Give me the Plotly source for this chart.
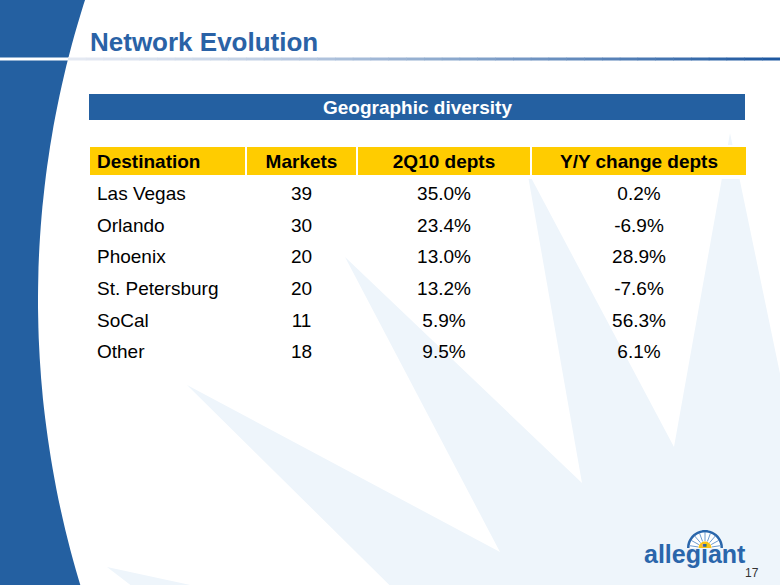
import numpy as np
import plotly.graph_objects as go

W, H = 780, 585
FONT = "Arial, Liberation Sans, sans-serif"

# ---- data ----
title = "Network Evolution"
section = "Geographic diversity"
headers = ["Destination", "Markets", "2Q10 depts", "Y/Y change depts"]
destinations = ["Las Vegas", "Orlando", "Phoenix", "St. Petersburg", "SoCal", "Other"]
markets = [39, 30, 20, 20, 11, 18]
share_2q10 = [35.0, 23.4, 13.0, 13.2, 5.9, 9.5]
yoy_change = [0.2, -6.9, 28.9, -7.6, 56.3, 6.1]
page_no = "17"
logo_text = "allegiant"

BLUE = "#2460a1"
LIGHT = "#eef5fb"
YELLOW = "#ffcc00"

shapes = []

# light sunburst background star
star = [(150, 600), (107, 567), (445, 640), (187, 385), (500, 552), (345, 257),
        (582, 483), (527, 170), (674, 447), (730, 133), (800, 470), (800, 600)]
shapes.append(dict(type="path", xref="x", yref="y", layer="below", line=dict(width=0),
                   fillcolor=LIGHT,
                   path="M " + " L ".join(f"{x},{y}" for x, y in star) + " Z"))

# left blue curved band
ys = np.linspace(-5, 590, 60)
cx, cy, R = 1019.0, 300.0, 981.0
xs = cx - np.sqrt(R ** 2 - (ys - cy) ** 2)
pts = [(-5, -5)] + list(zip(xs, ys)) + [(-5, 590)]
shapes.append(dict(type="path", xref="x", yref="y", layer="below", line=dict(width=0),
                   fillcolor=BLUE,
                   path="M " + " L ".join(f"{x:.1f},{y:.1f}" for x, y in pts) + " Z"))

# white rule across the band + gradient rule
shapes.append(dict(type="line", xref="x", yref="y", layer="below", x0=0, x1=70, y0=59, y1=59,
                   line=dict(color="white", width=3)))
n = 40
c0 = np.array([228, 233, 242])
c1 = np.array([30, 88, 160])
edges = np.linspace(68, 780, n + 1)
for i in range(n):
    t = (i / (n - 1)) ** 1.3
    c = (c0 + (c1 - c0) * t).astype(int)
    shapes.append(dict(type="line", xref="x", yref="y", layer="below",
                       x0=edges[i], x1=edges[i + 1] + 0.5, y0=59, y1=59,
                       line=dict(color=f"rgb({c[0]},{c[1]},{c[2]})", width=3)))

# section header bar
shapes.append(dict(type="rect", xref="x", yref="y", layer="below", x0=89, x1=745, y0=94, y1=120,
                   fillcolor=BLUE, line=dict(width=0)))

# trim the bottom of the table header band (table rows keep their spacing)
shapes.append(dict(type="rect", xref="x", yref="y", layer="above", x0=87, x1=749, y0=175, y1=178.3,
                   fillcolor="white", line=dict(width=0)))

# logo flower (half discs)
def half_disc(cxx, cyy, r):
    a = np.linspace(0, np.pi, 40)
    p = [(cxx + r * np.cos(t), cyy - r * np.sin(t)) for t in a]
    return "M " + " L ".join(f"{x:.1f},{y:.1f}" for x, y in p) + " Z"

fx, fy = 705, 548
shapes.append(dict(type="path", xref="x", yref="y", layer="above", path=half_disc(fx, fy, 18),
                   fillcolor="#2a66ab", line=dict(width=0)))
shapes.append(dict(type="path", xref="x", yref="y", layer="above", path=half_disc(fx, fy, 15.5),
                   fillcolor="white", line=dict(width=0)))
for ang in np.linspace(0.15, np.pi - 0.15, 9):
    shapes.append(dict(type="line", xref="x", yref="y", layer="above",
                       x0=fx + 7 * np.cos(ang), y0=fy - 7 * np.sin(ang),
                       x1=fx + 16 * np.cos(ang), y1=fy - 16 * np.sin(ang),
                       line=dict(color="#6e9ccf", width=1)))
shapes.append(dict(type="path", xref="x", yref="y", layer="above", path=half_disc(fx, fy, 6.5),
                   fillcolor="#f7c21a", line=dict(width=0)))

annotations = [
    dict(x=88, y=42, xref="x", yref="y", text=f"<b>{title}</b>", showarrow=False,
         xanchor="left", yanchor="middle", font=dict(family=FONT, size=26, color="#2a62a6")),
    dict(x=417, y=107, xref="x", yref="y", text=f"<b>{section}</b>", showarrow=False,
         xanchor="center", yanchor="middle", font=dict(family=FONT, size=19, color="white")),
    dict(x=695, y=554, xref="x", yref="y", text=f"<b>{logo_text}</b>", showarrow=False,
         xanchor="center", yanchor="middle", font=dict(family=FONT, size=25, color="#2a66ab")),
    dict(x=752, y=573, xref="x", yref="y", text=page_no, showarrow=False,
         xanchor="center", yanchor="middle", font=dict(family=FONT, size=12, color="#333333")),
]

fig = go.Figure()
fig.add_trace(go.Scatter(x=[0, W], y=[0, H], mode="markers", marker=dict(opacity=0),
                         hoverinfo="skip", showlegend=False))

align = ["left", "center", "center", "center"]
fig.add_trace(go.Table(
    domain=dict(x=[89 / W, 747 / W], y=[0, 1 - 146 / H]),
    columnwidth=[157, 111, 174, 216],
    header=dict(values=headers, fill_color=YELLOW,
                line=dict(color="white", width=2), align=align, height=32,
                font=dict(family=FONT, size=19, color="black", weight="bold")),
    cells=dict(values=[destinations, [str(m) for m in markets],
                       [f"{v:.1f}%" for v in share_2q10],
                       [f"{v:.1f}%" for v in yoy_change]],
               fill_color="rgba(0,0,0,0)", line=dict(color="rgba(0,0,0,0)", width=0),
               align=align, height=31.6,
               font=dict(family=FONT, size=19, color="black")),
))

fig.update_layout(
    width=W, height=H, margin=dict(l=0, r=0, t=0, b=0),
    paper_bgcolor="white", plot_bgcolor="white", showlegend=False,
    xaxis=dict(range=[0, W], visible=False, fixedrange=True, domain=[0, 1]),
    yaxis=dict(range=[H, 0], visible=False, fixedrange=True, domain=[0, 1]),
    shapes=shapes, annotations=annotations,
)
fig.write_html("out.html", config={"displayModeBar": False},
               post_script="document.body.style.margin='0';document.body.style.overflow='hidden';")
